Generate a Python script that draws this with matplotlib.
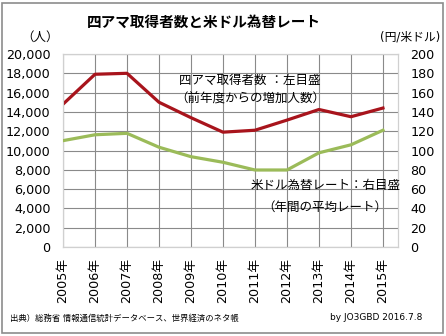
import matplotlib
matplotlib.use('Agg')
import matplotlib.pyplot as plt
from matplotlib.patches import Rectangle

plt.rcParams['font.family'] = ['DejaVu Sans', 'Noto Sans CJK JP']

# データ
years = ['2005年', '2006年', '2007年', '2008年', '2009年', '2010年',
         '2011年', '2012年', '2013年', '2014年', '2015年']
yonama = [14800, 17900, 18000, 15000, 13400, 11900, 12100, 13150, 14250, 13500, 14400]
usd_rate = [110.2, 116.3, 117.8, 103.4, 93.6, 87.8, 79.8, 79.8, 97.6, 105.9, 121.0]

W, H = 446, 336
def px(x, y):
    return x / W, 1 - y / H

fig = plt.figure(figsize=(W / 100, H / 100), dpi=100)
fig.patch.set_facecolor('white')
fig.patches.append(Rectangle((2 / W, 3 / H), 441 / W, 330 / H, transform=fig.transFigure,
                             fill=False, edgecolor='#8c8c8c', linewidth=1.2))

ax = fig.add_axes([63 / W, 89 / H, 335 / W, 193 / H])
ax2 = ax.twinx()

x = list(range(len(years)))
ax.plot(x, yonama, color='#A8141C', linewidth=2.3, zorder=3)
ax2.plot(x, usd_rate, color='#9BBB59', linewidth=2.3, zorder=3)

ax.set_xlim(0, 10.47)
ax.set_ylim(0, 20000)
ax2.set_ylim(0, 200)
ax.set_yticks(range(0, 20001, 2000))
ax.set_yticklabels([f'{v:,}' for v in range(0, 20001, 2000)])
ax2.set_yticks(range(0, 201, 20))
ax.set_xticks(x)
ax.set_xticklabels(years, rotation=90)

ax.grid(True, color='#8a8a8a', linewidth=0.8)
ax.set_axisbelow(True)
for a in (ax, ax2):
    for s in a.spines.values():
        s.set_color('#d0d0d0')
        s.set_linewidth(0.8)
ax.tick_params(axis='y', length=0, pad=9, labelsize=9.2)
ax.tick_params(axis='x', length=0, pad=8, labelsize=9.2)
ax2.tick_params(axis='y', length=0, pad=9, labelsize=9.2)

# テキスト
fig.text(*px(204, 22), '四アマ取得者数と米ドル為替レート', ha='center', va='center',
         fontsize=10.5, fontweight='bold')
fig.text(*px(40, 37), '（人）', ha='center', va='center', fontsize=9)
fig.text(*px(410, 37), '(円/米ドル)', ha='center', va='center', fontsize=8.5)
fig.text(*px(250, 80), '四アマ取得者数 ：左目盛', ha='center', va='center', fontsize=9)
fig.text(*px(250, 99), '（前年度からの増加人数）', ha='center', va='center', fontsize=9)
fig.text(*px(326, 185), '米ドル為替レート：右目盛', ha='center', va='center', fontsize=9)
fig.text(*px(325, 207), '（年間の平均レート）', ha='center', va='center', fontsize=9)
fig.text(*px(10, 318), '出典）総務省 情報通信統計データベース、世界経済のネタ帳',
         ha='left', va='center', fontsize=6)
fig.text(*px(422, 318), 'by JO3GBD 2016.7.8', ha='right', va='center', fontsize=6.5)

fig.savefig('out.png', dpi=100)
